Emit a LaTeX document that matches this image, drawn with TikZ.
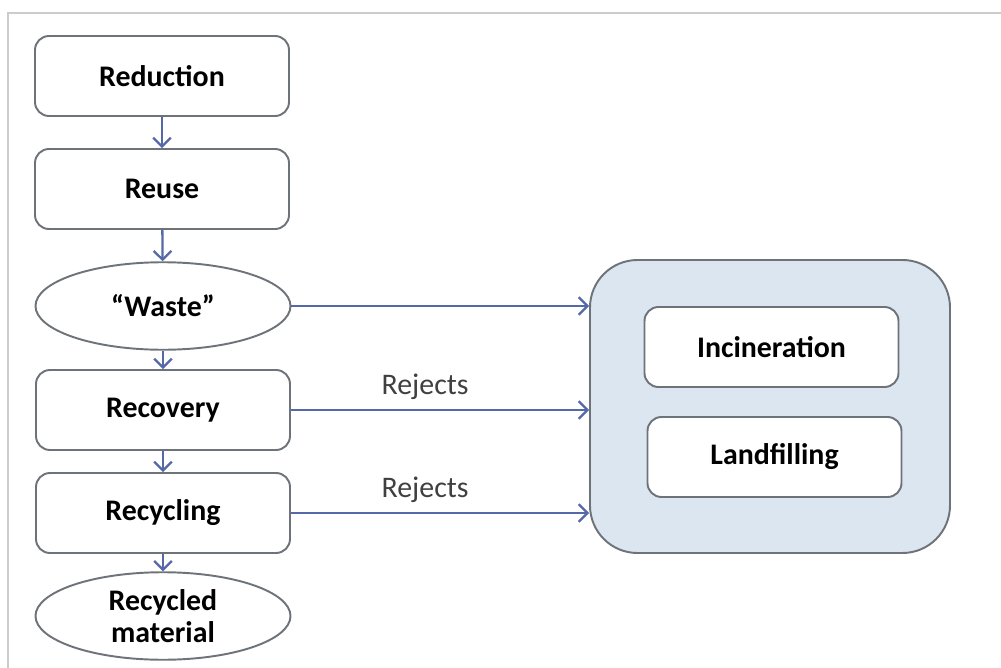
\documentclass[tikz,border=0pt]{standalone}
\usepackage{fontspec}
\setmainfont{Carlito}
\usetikzlibrary{shapes.geometric,arrows.meta}
\definecolor{edgegray}{HTML}{6E737A}
\definecolor{flowblue}{HTML}{5568A8}
\definecolor{panelblue}{HTML}{DCE6F0}
\begin{document}
\begin{tikzpicture}[
    stage/.style={draw=edgegray, line width=1.1pt, rounded corners=0.28cm, fill=white,
      minimum width=5.08cm, minimum height=1.6cm, font=\fontsize{17}{18}\selectfont\bfseries},
    blob/.style={draw=edgegray, line width=1.1pt, ellipse, fill=white, align=center,
      minimum width=5.1cm, minimum height=1.75cm, inner sep=0pt, font=\fontsize{17}{18}\selectfont\bfseries},
    flow/.style={draw=flowblue, line width=1.3pt, -{Straight Barb[length=5pt,width=10pt]}}
  ]
    \useasboundingbox (0,0) rectangle (20.02,-13.36);
    \draw[gray!40, line width=0.8pt] (0.16,-13.4) -- (0.16,-0.26) -- (20.1,-0.26);
    % left column
    \node[stage] (reduction) at (3.24,-1.52) {Reduction};
    \node[stage] (reuse) at (3.24,-3.78) {Reuse};
    \node[blob] (waste) at (3.26,-6.12) {“Waste”};
    \node[stage] (recovery) at (3.26,-8.2) {Recovery};
    \node[stage] (recycling) at (3.26,-10.26) {Recycling};
    \node[blob] (material) at (3.26,-12.32) {Recycled\\material};
    % disposal panel
    \node[draw=edgegray, line width=1.1pt, fill=panelblue, rounded corners=0.95cm,
      minimum width=7.2cm, minimum height=5.86cm] (disposal) at (15.4,-8.13) {};
    \node[stage] (incineration) at (15.43,-6.94) {Incineration};
    \node[stage] (landfill) at (15.49,-9.14) {Landfilling};
    \draw[flow] (reduction) -- (reuse);
    \draw[flow] (reuse) -- (waste);
    \draw[flow] (waste) -- (recovery);
    \draw[flow] (recovery) -- (recycling);
    \draw[flow] (recycling) -- (material);
    \draw[flow] (waste.east) -- (waste.east -| disposal.west);
    \draw[flow] (recovery.east) -- (recovery.east -| disposal.west)
      node[pos=0.45, above=2pt, font=\fontsize{17}{18}\selectfont, text=black!75] (rej1) {Rejects};
    \draw[flow] (recycling.east) -- (recycling.east -| disposal.west)
      node[pos=0.45, above=2pt, font=\fontsize{17}{18}\selectfont, text=black!75] (rej2) {Rejects};
\end{tikzpicture}
\end{document}
